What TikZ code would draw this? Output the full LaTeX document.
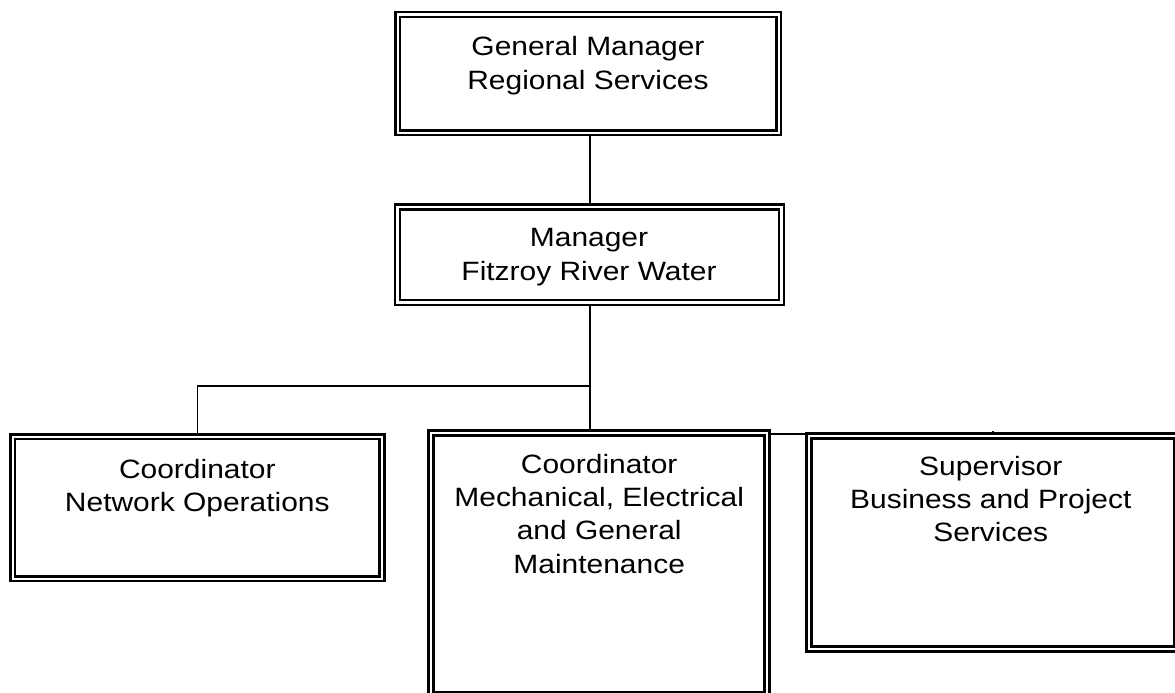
\documentclass[tikz,border=0pt]{standalone}
\usepackage{fontspec}
\setmainfont{Liberation Sans}[FakeStretch=1.13]
\pgfdeclarelayer{background}
\pgfsetlayers{background,main}
\tikzset{
  orgbox/.style={draw=black, fill=white, double=white, line width=2.5pt, double distance=2.2pt,
    inner sep=0pt, outer sep=0pt, rectangle},
  orgtext/.style={anchor=base, inner sep=0pt, font=\fontsize{26.5}{33.3}\selectfont},
  conn/.style={draw=black, line width=1.5pt}
}
\newcommand{\boxlines}[1]{\parbox[t]{12cm}{\centering #1}}
\begin{document}
\begin{tikzpicture}[x=1pt, y=-1pt]
\useasboundingbox (0,0) rectangle (1175,693);
% boxes (mid-line coordinates)
\node[orgbox, minimum width=381pt, minimum height=118pt] (gm) at (588.1,73.6) {};
\node[orgbox, minimum width=384pt, minimum height=95.5pt] (mgr) at (589.5,254.8) {};
\node[orgbox, minimum width=369.3pt, minimum height=142pt] (net) at (197.4,507.8) {};
\node[orgbox, minimum width=336pt, minimum height=261.5pt] (mech) at (599,563.8) {};
\node[orgbox, minimum width=367.3pt, minimum height=213pt] (sup) at (992.6,542.5) {};
% texts
\node[orgtext] (gmT) at (588,55.7) {\boxlines{General Manager\\Regional Services}};
\node[orgtext] (mgrT) at (589,246.7) {\boxlines{Manager\\Fitzroy River Water}};
\node[orgtext] (netT) at (197.3,478.3) {\boxlines{Coordinator\\Network Operations}};
\node[orgtext] (mechT) at (599.2,473.3) {\boxlines{Coordinator\\Mechanical, Electrical\\and General\\Maintenance}};
\node[orgtext] (supT) at (990.8,475) {\boxlines{Supervisor\\Business and Project\\Services}};
% connectors
\coordinate (t1) at (590,386);
\coordinate (t2) at (590,434);
\coordinate (supIn) at (993,431);
\begin{pgfonlayer}{background}
\draw[conn] (gm.south -| t1) -- (mgr.north -| t1);
\draw[conn] (mgr.south -| t1) -- (mech.north -| t1);
\draw[conn] (t1) -| (net.north);
\draw[conn] (t2) -| (supIn);
\end{pgfonlayer}
\end{tikzpicture}
\end{document}
